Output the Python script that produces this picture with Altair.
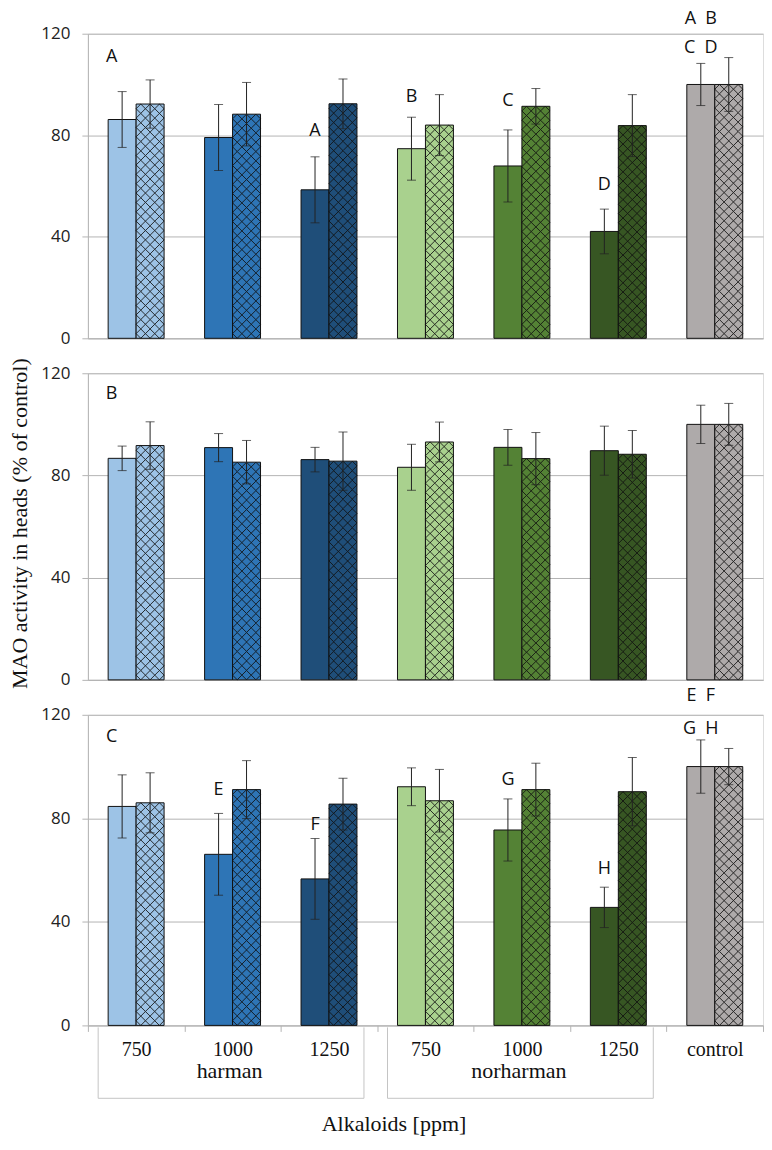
import altair as alt
import pandas as pd

# ---------------- data ----------------
CATS = ["h750", "h1000", "h1250", "n750", "n1000", "n1250", "control"]
TICK_LABELS = ["750", "1000", "1250", "750", "1000", "1250", "control"]
COLORS = ["#9dc3e6", "#2e75b6", "#1f4e79", "#a9d18e", "#548235", "#375623", "#aeaaaa"]

PANEL_NAMES = ["A", "B", "C"]

A_SOLID = [86.2, 79.1, 58.5, 74.7, 67.9, 42.1, 100.0]
A_SOLID_SD = [11.0, 13.0, 13.0, 12.4, 14.2, 8.8, 8.3]
A_HATCH = [92.3, 88.3, 92.4, 84.0, 91.4, 83.8, 100.0]
A_HATCH_SD = [9.5, 12.5, 9.8, 12.0, 7.0, 12.2, 10.6]

B_SOLID = [86.7, 90.9, 86.2, 83.2, 91.0, 89.7, 100.0]
B_SOLID_SD = [4.8, 5.5, 4.8, 9.0, 7.0, 9.6, 7.5]
B_HATCH = [91.7, 85.2, 85.6, 93.1, 86.6, 88.3, 100.0]
B_HATCH_SD = [9.3, 8.5, 11.4, 7.8, 10.2, 9.3, 8.2]

C_SOLID = [84.6, 66.1, 56.6, 92.2, 75.5, 45.6, 100.0]
C_SOLID_SD = [12.2, 15.8, 15.6, 7.3, 12.0, 7.8, 10.3]
C_HATCH = [86.0, 91.1, 85.5, 86.8, 91.1, 90.3, 100.0]
C_HATCH_SD = [11.6, 11.2, 10.0, 12.1, 10.2, 13.2, 7.0]

# significance letters (category, text, value at which the letter sits)
A_LET_CAT = ["h1250", "n750", "n1000", "n1250", "control", "control"]
A_LET_TXT = ["A", "B", "C", "D", "A\u00a0\u00a0B", "C\u00a0\u00a0D"]
A_LET_Y = [81.5, 95.0, 93.6, 60.3, 125.8, 114.2]

B_LET_CAT = []
B_LET_TXT = []
B_LET_Y = []

C_LET_CAT = ["h1000", "h1250", "n1000", "n1250", "control", "control"]
C_LET_TXT = ["E", "F", "G", "H", "E\u00a0\u00a0F", "G\u00a0\u00a0H"]
C_LET_Y = [91.0, 77.3, 94.9, 60.6, 127.2, 114.7]

PANEL_LETTER_Y = [110.8, 111.7, 111.5]

GROUP_NAMES = ["harman", "norharman"]
GROUP_MID = ["h1000", "n1000"]
GROUP_START = ["h750", "n750"]
GROUP_END = ["h1250", "n1250"]

Y_TICKS = [0, 40, 80, 120]
Y_TITLE = "MAO activity in heads (% of control)"
X_TITLE = "Alkaloids [ppm]"

# ---------------- styling ----------------
W = 676
HEIGHTS = [305, 307, 311]
BAR_W = 28
CELL = BAR_W / 3.0
GRID = "#b4b4b4"
SANS = "Open Sans"
SERIF = "Liberation Serif"
HATCH_PATH = ("M-1,0L-0.6667,-0.3333L-0.3333,0L0,-0.3333L0.3333,0L0.6667,-0.3333L1,0"
              "L0.6667,0.3333L0.3333,0L0,0.3333L-0.3333,0L-0.6667,0.3333Z")

label_expr = ""
for c, t in zip(CATS, TICK_LABELS):
    label_expr += f"datum.value == '{c}' ? '{t}' : "
label_expr += "''"


def make_panel(i, solid, solid_sd, hatch, hatch_sd, let_cat, let_txt, let_y):
    H = HEIGHTS[i]
    ppu = H / 120.0
    last = i == 2

    if last:
        xaxis = alt.Axis(labelExpr=label_expr, labelAngle=0, labelFont=SERIF,
                         labelFontSize=20, labelColor="#111", labelPadding=8,
                         tickBand="extent", ticks=True, tickSize=6, tickColor=GRID,
                         domainColor=GRID, title=X_TITLE, titleFont=SERIF,
                         titleFontSize=22, titleFontWeight="normal", titleColor="#111",
                         titleX=306, titleY=105, titleBaseline="alphabetic",
                         titleAlign="center")
    else:
        xaxis = alt.Axis(labels=False, ticks=False, domainColor=GRID, title=None)

    ytitle = Y_TITLE if i == 1 else None
    yaxis = alt.Axis(values=Y_TICKS, grid=True, gridColor=GRID, domainColor=GRID,
                     tickColor=GRID, tickSize=6, labelFont=SANS, labelFontSize=17,
                     labelColor="#222", labelPadding=12, title=ytitle,
                     titleFont=SERIF, titleFontSize=22, titleFontWeight="normal",
                     titleColor="#111", titleX=-56, titleY=H / 2 - 3.5,
                     titleBaseline="bottom", titleAngle=270)

    xs = alt.Scale(domain=CATS, paddingInner=0, paddingOuter=0)
    ys = alt.Scale(domain=[0, 120], nice=False)

    def X(f="cat"):
        return alt.X(f"{f}:N", scale=xs, axis=xaxis, title=X_TITLE if last else None)

    def Y(f):
        return alt.Y(f"{f}:Q", scale=ys, axis=yaxis, title=ytitle)

    df = pd.DataFrame({"cat": CATS, "solid": solid, "ssd": solid_sd,
                       "hatch": hatch, "hsd": hatch_sd})
    base = alt.Chart(df).transform_calculate(
        slo="datum.solid - datum.ssd", shi="datum.solid + datum.ssd",
        hlo="datum.hatch - datum.hsd", hhi="datum.hatch + datum.hsd")
    fill = alt.Fill("cat:N", scale=alt.Scale(domain=CATS, range=COLORS), legend=None)

    layers = []
    layers.append(base.mark_bar(width=BAR_W, xOffset=-BAR_W / 2, stroke="#111",
                                strokeWidth=1).encode(x=X(), y=Y("solid"), fill=fill))
    layers.append(base.mark_bar(width=BAR_W, xOffset=BAR_W / 2, stroke="#111",
                                strokeWidth=1).encode(x=X(), y=Y("hatch"), fill=fill))
    hatch_layer = base.transform_calculate(
        n=f"max(1, round(datum.hatch * {ppu} / {CELL}))"
    ).transform_calculate(
        j="sequence(0, datum.n)"
    ).transform_flatten(["j"]).transform_calculate(
        yc="(datum.j + 0.5) * datum.hatch / datum.n"
    ).mark_point(shape=HATCH_PATH, size=BAR_W * BAR_W, filled=False, color="#111",
                 strokeWidth=0.85, opacity=1, xOffset=BAR_W / 2).encode(x=X(), y=Y("yc"))
    layers.append(hatch_layer)

    for off, lo, hi in [(-BAR_W / 2, "slo", "shi"), (BAR_W / 2, "hlo", "hhi")]:
        layers.append(base.mark_rule(xOffset=off, color="#222", strokeWidth=1).encode(
            x=X(), y=Y(lo), y2=alt.Y2(hi)))
        layers.append(base.mark_tick(xOffset=off, color="#222", size=9, thickness=1).encode(
            x=X(), y=Y(lo)))
        layers.append(base.mark_tick(xOffset=off, color="#222", size=9, thickness=1).encode(
            x=X(), y=Y(hi)))

    if let_cat:
        ldf = pd.DataFrame({"cat": let_cat, "txt": let_txt, "ly": let_y})
        layers.append(alt.Chart(ldf).mark_text(font=SANS, fontSize=18, color="#111",
                                               dx=-BAR_W / 2, baseline="middle").encode(
            x=X(), y=Y("ly"), text="txt:N"))

    pdf = pd.DataFrame({"cat": [CATS[0]], "txt": [PANEL_NAMES[i]], "ly": [PANEL_LETTER_Y[i]]})
    layers.append(alt.Chart(pdf).mark_text(font=SANS, fontSize=18, color="#111",
                                           dx=-24.5, baseline="middle").encode(
        x=X(), y=Y("ly"), text="txt:N"))

    if last:
        gdf = pd.DataFrame({"name": GROUP_NAMES, "mid": GROUP_MID,
                            "start": GROUP_START, "end": GROUP_END})
        g = alt.Chart(gdf)
        layers.append(g.mark_text(font=SERIF, fontSize=22, color="#111", dx=-3,
                                  baseline="alphabetic").encode(
            x=X("mid"), y=alt.value(H + 53), text="name:N"))
        layers.append(g.mark_rule(color="#c4c4c4", strokeWidth=1, xOffset=-38).encode(
            x=X("start"), y=alt.value(H + 2), y2=alt.value(H + 73)))
        layers.append(g.mark_rule(color="#c4c4c4", strokeWidth=1, xOffset=35).encode(
            x=X("end"), y=alt.value(H + 2), y2=alt.value(H + 73)))
        layers.append(g.mark_rule(color="#c4c4c4", strokeWidth=1, xOffset=-38,
                                  x2Offset=35).encode(
            x=X("start"), x2=alt.X2("end"), y=alt.value(H + 73)))

    return alt.layer(*layers).properties(width=W, height=H)


p1 = make_panel(0, A_SOLID, A_SOLID_SD, A_HATCH, A_HATCH_SD, A_LET_CAT, A_LET_TXT, A_LET_Y)
p2 = make_panel(1, B_SOLID, B_SOLID_SD, B_HATCH, B_HATCH_SD, B_LET_CAT, B_LET_TXT, B_LET_Y)
p3 = make_panel(2, C_SOLID, C_SOLID_SD, C_HATCH, C_HATCH_SD, C_LET_CAT, C_LET_TXT, C_LET_Y)

chart = alt.vconcat(p1, p2, p3, spacing=35, bounds="flush").properties(
    padding=0
).configure_view(stroke=None).configure(background="white")

chart.save("out.html", embed_options={"renderer": "svg", "actions": False})
